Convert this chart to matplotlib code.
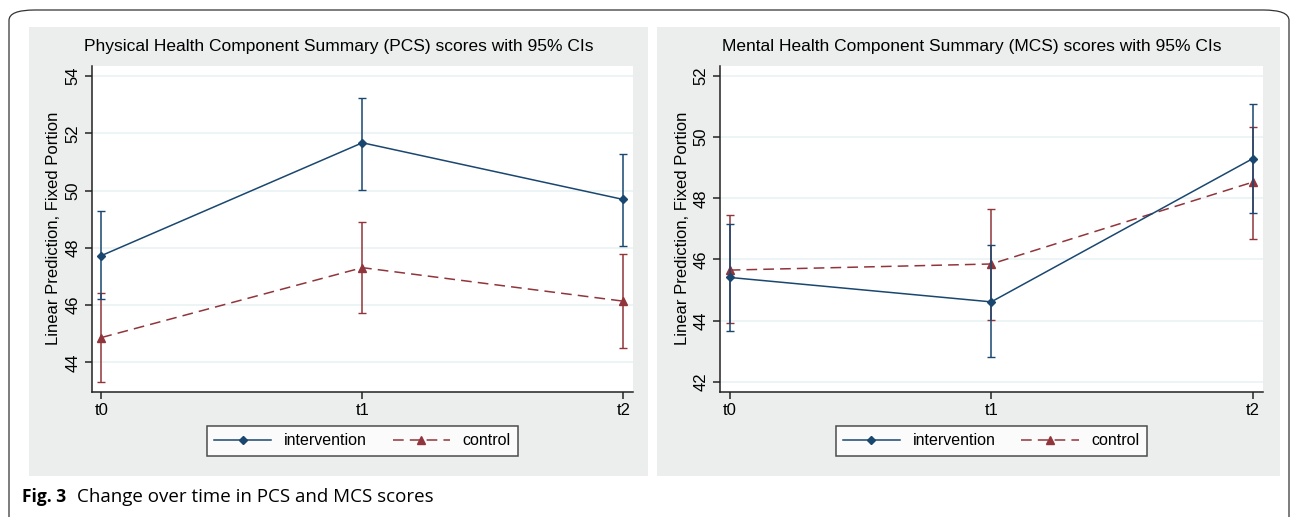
import numpy as np
import matplotlib
matplotlib.use("Agg")
import matplotlib.pyplot as plt
from matplotlib.patches import Rectangle, FancyBboxPatch
from matplotlib.lines import Line2D

# data
times = ["t0", "t1", "t2"]

pcs_int = [47.73, 51.67, 49.69]
pcs_int_lo = [46.20, 50.03, 48.08]
pcs_int_hi = [49.28, 53.24, 51.28]
pcs_ctl = [44.87, 47.31, 46.14]
pcs_ctl_lo = [43.32, 45.74, 44.51]
pcs_ctl_hi = [46.43, 48.92, 47.77]

mcs_int = [45.41, 44.61, 49.30]
mcs_int_lo = [43.65, 42.80, 47.53]
mcs_int_hi = [47.15, 46.46, 51.09]
mcs_ctl = [45.65, 45.85, 48.53]
mcs_ctl_lo = [43.91, 44.03, 46.68]
mcs_ctl_hi = [47.44, 47.64, 50.35]

NAVY = "#1a476f"
MAROON = "#90353b"
PANEL = "#eceeee"
GRID = "#eaf2f3"
DASH = (0, (7, 4))

W, H = 1293, 517
plt.rcParams["font.family"] = ["Liberation Sans", "DejaVu Sans"]

fig = plt.figure(figsize=(W / 100, H / 100), dpi=100)


def px(x0, y0, x1, y1):
    # pixel box (top-left origin) -> figure fraction
    return [x0 / W, 1 - y1 / H, (x1 - x0) / W, (y1 - y0) / H]


# outer rounded border
fig.patches.append(FancyBboxPatch((9 / W, -0.05), (1289 - 9) / W, 1 - 10 / H + 0.05,
                                  boxstyle="round,pad=0,rounding_size=0.02",
                                  transform=fig.transFigure, fill=False,
                                  edgecolor="#333333", linewidth=0.9, zorder=-2))
# gray graph regions
for x0, x1 in [(29, 648), (657, 1280)]:
    b = px(x0, 27, x1, 476)
    fig.patches.append(Rectangle((b[0], b[1]), b[2], b[3], transform=fig.transFigure,
                                 facecolor=PANEL, edgecolor="none", zorder=-1))


def panel(box, pcenter, title, yticks, ylim, a, a_lo, a_hi, c, c_lo, c_hi):
    ax = fig.add_axes(px(*box))
    x = np.arange(len(times))
    ax.errorbar(x, a, yerr=[np.subtract(a, a_lo), np.subtract(a_hi, a)], color=NAVY,
                lw=1.1, marker="D", ms=4.5, capsize=3, elinewidth=1.1, zorder=3)
    ax.errorbar(x, c, yerr=[np.subtract(c, c_lo), np.subtract(c_hi, c)], color=MAROON,
                lw=1.1, ls=DASH, marker="^", ms=5.5, capsize=3, elinewidth=1.1, zorder=2)
    ax.set_xlim(-0.037, 2.037)
    ax.set_ylim(*ylim)
    ax.set_xticks(x)
    ax.set_xticklabels(times, fontsize=12)
    ax.set_yticks(yticks)
    ax.set_yticklabels([str(v) for v in yticks], rotation=90, va="center", fontsize=12)
    ax.grid(axis="y", color=GRID, lw=1.2)
    ax.set_axisbelow(True)
    for s in ["top", "right"]:
        ax.spines[s].set_visible(False)
    for s in ["left", "bottom"]:
        ax.spines[s].set_color("#222222")
        ax.spines[s].set_linewidth(1.1)
    ax.tick_params(length=5, width=1.1, color="#222222", pad=3)
    ax.set_ylabel("Linear Prediction, Fixed Portion", fontsize=12, labelpad=3)
    fig.text(pcenter / W, 1 - 47 / H, title, fontsize=12.5, ha="center", va="center")
    handles = [Line2D([], [], color=NAVY, lw=1.1, marker="D", ms=4.5),
               Line2D([], [], color=MAROON, lw=1.1, ls=DASH, marker="^", ms=5.5)]
    leg = ax.legend(handles, ["intervention", "control"], loc="center",
                    bbox_to_anchor=(0.5, -0.151), ncol=2, fontsize=11.5,
                    frameon=True, fancybox=False, edgecolor="#222222", handlelength=3.6,
                    handletextpad=0.8, columnspacing=1.6, borderpad=0.45,
                    borderaxespad=0)
    leg.get_frame().set_linewidth(1.1)
    return ax


panel((91.7, 65.7, 633, 391.7), 338.5,
      "Physical Health Component Summary (PCS) scores with 95% CIs",
      [44, 46, 48, 50, 52, 54], (42.98, 54.36),
      pcs_int, pcs_int_lo, pcs_int_hi, pcs_ctl, pcs_ctl_lo, pcs_ctl_hi)
panel((720, 65.7, 1262.5, 391.7), 972,
      "Mental Health Component Summary (MCS) scores with 95% CIs",
      [42, 44, 46, 48, 50, 52], (41.67, 52.34),
      mcs_int, mcs_int_lo, mcs_int_hi, mcs_ctl, mcs_ctl_lo, mcs_ctl_hi)

fig.text(22 / W, 1 - 497 / H, "Fig. 3", fontsize=12.5, fontweight="bold",
         family=["Open Sans", "DejaVu Sans"], va="center", ha="left")
fig.text(77 / W, 1 - 497 / H, "Change over time in PCS and MCS scores", fontsize=13.5,
         family=["Open Sans", "DejaVu Sans"], va="center", ha="left")

fig.savefig("out.png", dpi=100)
